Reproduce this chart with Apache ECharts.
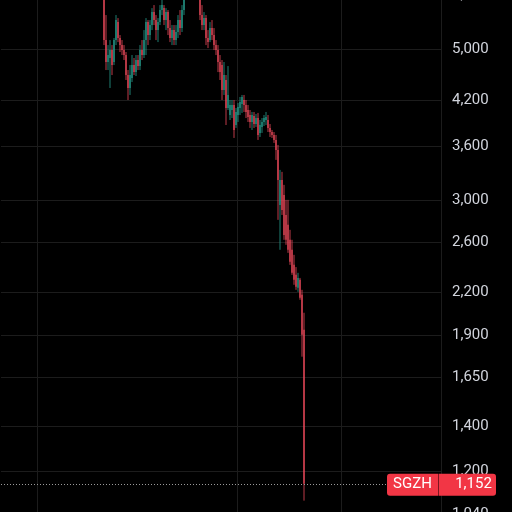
<!DOCTYPE html>
<html>
<head>
<meta charset="utf-8">
<script src="https://cdn.jsdelivr.net/npm/echarts@6/dist/echarts.min.js"></script>
<style>
html,body{margin:0;padding:0;background:#000;}
#c{width:512px;height:512px;}
</style>
</head>
<body>
<div id="c"></div>
<script>
// ---- data ----
var ticker = 'SGZH';
var openArr = [6317,5153,4785,4850,4982,4785,5153,5476,5188,5067,4982,4899,4579,4383,4533,4736,4625,4817,4720,4982,4899,5153,5476,5241,5421,5664,5513,5330,5476,5702,5740,5513,5664,5366,5188,5330,5153,5295,5513,5366,5702,
6100,6420,6205,6531,6640,6420,6531,
6205,5607,5421,5550,5188,5153,5366,5241,5067,4982,4785,4736,4353,4503,4097,4001,4069,4139,3868,4001,4097,4153,4209,4139,4069,4001,3908,3987,3881,3960,3766,3843,3908,3934,3934,3830,3778,3740,3678,3556,2953,3213,3055,2855,2761,2625,2538,2412,2332,2232,2293,2180,1937];
var closeArr = [5153,4785,4899,4982,4736,5153,5513,5188,5067,4982,4899,4579,4383,4579,4736,4625,4817,4720,4982,4899,5153,5476,5241,5421,5664,5513,5330,5476,5702,5799,5513,5664,5366,5188,5330,5153,5295,5513,5366,5702,6100,
6420,6205,6531,6640,6420,6531,6205,
5607,5421,5550,5188,5118,5366,5241,5067,4982,4785,4625,4353,4579,4097,4281,4139,4139,3804,4042,4111,4181,4252,4139,4042,3974,3908,4001,3881,3960,3740,3868,3908,3960,3974,3830,3778,3740,3678,3556,3213,3213,2904,2669,2625,2538,2437,2348,2293,2240,2308,2158,1905,1152];
var lowArr = [5067,4657,4657,4383,4579,4736,5067,5118,4949,4899,4817,4503,4209,4281,4472,4579,4564,4657,4657,4817,4850,4899,5067,5153,5330,5421,5153,5118,5421,5607,5421,5330,5241,5118,5067,5067,5067,5188,5241,5295,5607,
5998,6040,6040,6317,6205,6100,5998,
5513,5330,5330,5067,5016,5118,5153,4982,4899,4625,4503,4209,4281,3868,4069,3934,3960,3703,3830,3908,4001,4029,4042,3960,3908,3830,3804,3830,3843,3678,3715,3766,3855,3868,3778,3715,3703,3641,3438,2808,2538,2855,2625,2581,2512,2412,2332,2255,2217,2202,2144,1769,1088];
var highArr = [6531,5607,5067,5153,5067,5188,5607,5550,5241,5153,5067,4949,4657,4736,4899,4850,4899,4899,5067,5153,5330,5550,5513,5513,5740,5799,5607,5550,5799,5938,5799,5740,5702,5513,5421,5421,5421,5607,5702,5799,6205,
6640,6751,6751,6870,6870,6751,6751,
6317,5799,5664,5607,5330,5476,5513,5366,5153,5067,4899,4817,4785,4579,4720,4209,4209,4209,4097,4167,4252,4281,4281,4209,4139,4069,4042,4042,4015,4029,3934,3960,4001,4042,4001,3881,3804,3778,3740,3616,3324,3302,3160,3004,3004,2715,2625,2495,2394,2348,2308,2217,2052];
var tickLabels = [6000,5000,4200,3600,3000,2600,2200,1900,1650,1400,1200,1040];
var leadSlots = 51;   // empty trading slots before the first candle
var tailSlots = 68;   // empty slots after the last candle
var gridSlots = [18,118,170]; // slots where vertical grid lines fall

// ---- build options ----
var log = Math.log10;
var red = '#f23645', green = '#22ab94';
var candleRed = '#ee4a5b', candleGreen = '#26a08f';
var cats = [];
var total = leadSlots + openArr.length + tailSlots;
for (var i = 0; i < total; i++) cats.push(String(i));
var kdata = [];
for (var k = 0; k < openArr.length; k++) {
  kdata.push([k + leadSlots, log(openArr[k]), log(closeArr[k]), log(lowArr[k]), log(highArr[k])]);
}
var tickVals = tickLabels.map(log);
function fmt(v){
  var best = tickLabels[0], bd = 1e9;
  tickLabels.forEach(function(t){ var d = Math.abs(log(t)-v); if (d < bd){bd=d;best=t;} });
  return best.toLocaleString('en-US');
}
var last = closeArr[closeArr.length-1];

function renderCandle(params, api) {
  var xi = api.value(0);
  var ov = api.value(1), cv = api.value(2);
  var o = api.coord([xi, ov]);
  var c = api.coord([xi, cv]);
  var l = api.coord([xi, api.value(3)]);
  var h = api.coord([xi, api.value(4)]);
  var w = api.size([1, 0])[0] * 0.6;
  var col = cv >= ov ? candleGreen : candleRed;
  var top = Math.min(o[1], c[1]), bot = Math.max(o[1], c[1]);
  return {
    type: 'group',
    children: [
      {type: 'line', shape: {x1: o[0], y1: h[1], x2: o[0], y2: l[1]}, style: {stroke: col, lineWidth: 0.8}},
      {type: 'rect', shape: {x: o[0] - w / 2, y: top, width: w, height: Math.max(bot - top, 1)}, style: {fill: col}}
    ]
  };
}

var chart = echarts.init(document.getElementById('c'), null, {renderer:'canvas'});
chart.setOption({
  backgroundColor: '#000000',
  animation: false,
  grid: {left: 1, right: 71, top: -5, bottom: -2, containLabel: false, outerBoundsMode: 'none'},
  xAxis: {
    type: 'category', data: cats, boundaryGap: true,
    axisLine: {show:false}, axisTick: {show:false}, axisLabel: {show:false},
    splitLine: {show:true, interval: function(idx){ return gridSlots.indexOf(idx) >= 0; }, lineStyle:{color:'#1c1c1c', width:1}}
  },
  yAxis: {
    type: 'value', position: 'right', scale: true,
    min: log(1040), max: log(6000),
    axisLine: {show:false},
    axisTick: {show:false, customValues: tickVals},
    axisLabel: {customValues: tickVals, formatter: fmt, color:'#d1d4dc', fontSize:15, fontFamily:'Roboto', margin: 11, align:'left', showMinLabel:true, showMaxLabel:true},
    splitLine: {show:true, lineStyle:{color:'#1c1c1c', width:1}}
  },
  series: [{
    type: 'custom',
    data: kdata,
    encode: {x: 0, y: [1, 2, 3, 4]},
    renderItem: renderCandle,
    clip: true,
    silent: true,
    markLine: {
      silent: true, symbol: ['none','none'], animation: false,
      lineStyle: {type: [1,2], color: '#9a9a9a', width: 1},
      data: [{yAxis: log(last)}],
      label: {
        show: true, position: 'end', distance: -54,
        formatter: '{a|' + ticker + '}{s| }{b|' + last.toLocaleString('en-US') + '}',
        rich: {
          a: {width: 51, height: 22, lineHeight: 22, align:'center', color:'#ffffff', fontSize:15, fontFamily:'Roboto', backgroundColor: red, borderRadius:[3,0,0,3]},
          s: {width: 1, height: 22, lineHeight: 22, backgroundColor:'#7d1620'},
          b: {width: 45, height: 22, lineHeight: 22, align:'left', padding:[0,0,0,12], color:'#ffffff', fontSize:15, fontFamily:'Roboto', backgroundColor: red, borderRadius:[0,3,3,0]}
        }
      }
    }
  }]
});
</script>
</body>
</html>
